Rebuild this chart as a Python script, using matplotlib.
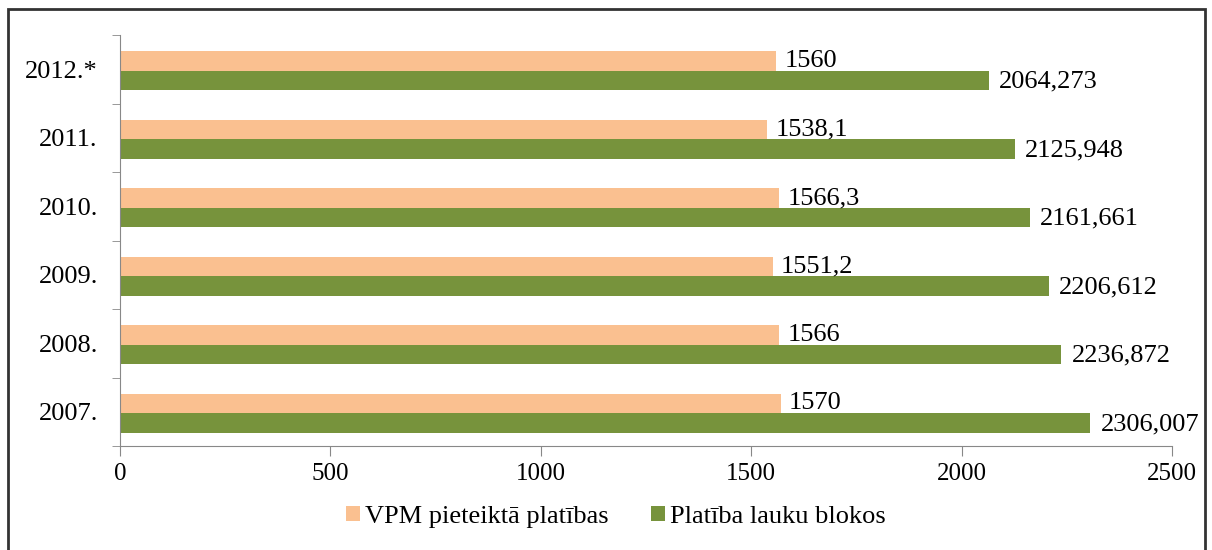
import numpy as np
import matplotlib.pyplot as plt
from matplotlib.patches import Rectangle

plt.rcParams['font.family'] = ['Liberation Serif', 'DejaVu Serif']

years = ['2007.', '2008.', '2009.', '2010.', '2011.', '2012.*']
vpm = [1570, 1566, 1551.2, 1566.3, 1538.1, 1560]
lauku = [2306.007, 2236.872, 2206.612, 2161.661, 2125.948, 2064.273]
vpm_labels = ['1570', '1566', '1551,2', '1566,3', '1538,1', '1560']
lauku_labels = ['2306,007', '2236,872', '2206,612', '2161,661', '2125,948', '2064,273']

c_orange = '#FAC090'
c_green = '#77933C'

fig = plt.figure(figsize=(12.12, 5.5), dpi=100)
ax = fig.add_axes([0.099, 0.189, 0.868, 0.747])

y = np.arange(len(years))
h = 0.285
ax.barh(y + h / 2 - 0.02, vpm, height=h, color=c_orange, label='VPM pieteiktā platības')
ax.barh(y - h / 2 - 0.02, lauku, height=h, color=c_green, label='Platība lauku blokos')

for yi, v, s in zip(y, vpm, vpm_labels):
    ax.text(v + 20, yi + h / 2 - 0.02, s, va='center', ha='left', fontsize=19)
for yi, v, s in zip(y, lauku, lauku_labels):
    ax.text(v + 24, yi - h / 2 - 0.035, s, va='center', ha='left', fontsize=19)

ax.set_xlim(0, 2500)
ax.set_ylim(-0.5, len(years) - 0.5)
ax.set_xticks([0, 500, 1000, 1500, 2000, 2500])
ax.set_yticks(y)
ax.set_yticklabels(years)
ax.set_yticks(np.arange(-0.5, len(years), 1), minor=True)
ax.tick_params(axis='y', which='major', length=0, pad=16, labelsize=19)
ax.tick_params(axis='y', which='minor', length=6, color='#888888')
ax.tick_params(axis='x', length=7, color='#888888', pad=5, labelsize=18)

for side in ['top', 'right']:
    ax.spines[side].set_visible(False)
for side in ['left', 'bottom']:
    ax.spines[side].set_color('#888888')

ax.legend(loc='center', bbox_to_anchor=(0.508, 0.06), bbox_transform=fig.transFigure,
          ncol=2, frameon=False, fontsize=19, handlelength=0.53, handleheight=0.53,
          handletextpad=0.19, columnspacing=1.6)

fig.patches.append(Rectangle((8 / 1212, -0.05), 1197 / 1212, 1.05 - 9 / 550,
                             transform=fig.transFigure, fill=False,
                             edgecolor='#333333', linewidth=2))

fig.savefig('out.png', dpi=100)
